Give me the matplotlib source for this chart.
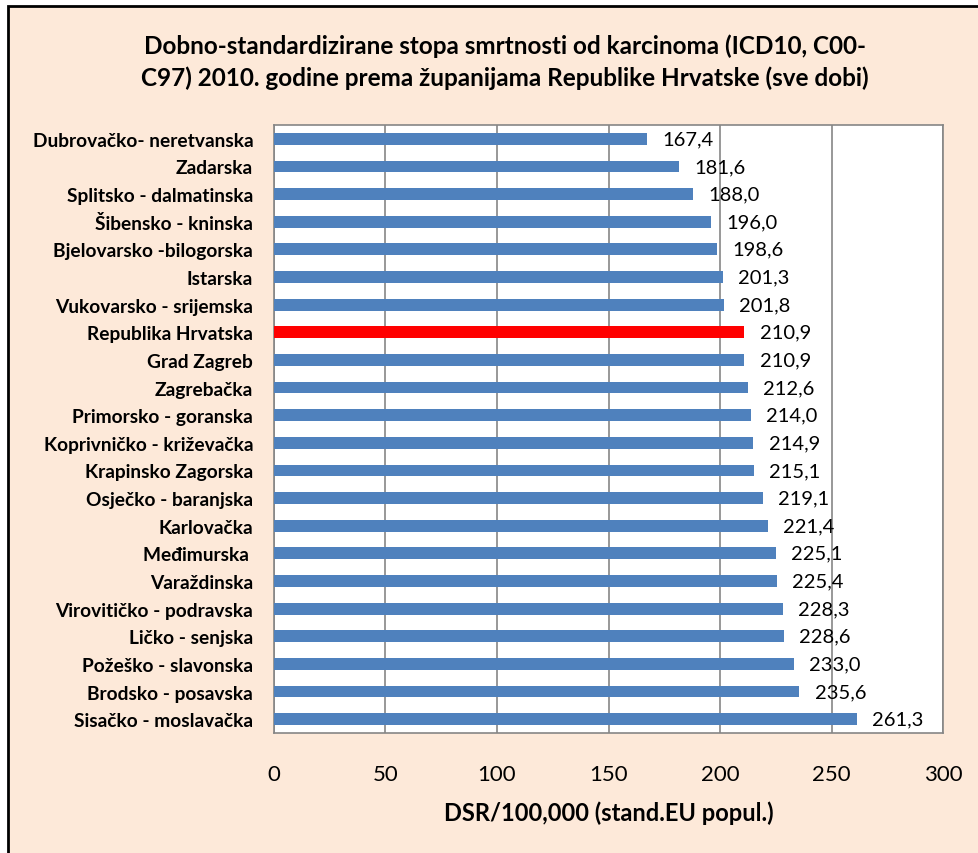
import matplotlib.pyplot as plt
from matplotlib.patches import Rectangle

plt.rcParams['font.family'] = ['Lato', 'DejaVu Sans']

counties = ['Dubrovačko- neretvanska', 'Zadarska', 'Splitsko - dalmatinska',
            'Šibensko - kninska', 'Bjelovarsko -bilogorska', 'Istarska',
            'Vukovarsko - srijemska', 'Republika Hrvatska', 'Grad Zagreb',
            'Zagrebačka', 'Primorsko - goranska', 'Koprivničko - križevačka',
            'Krapinsko Zagorska', 'Osječko - baranjska', 'Karlovačka',
            'Međimurska ', 'Varaždinska', 'Virovitičko - podravska',
            'Ličko - senjska', 'Požeško - slavonska', 'Brodsko - posavska',
            'Sisačko - moslavačka']
dsr = [167.4, 181.6, 188.0, 196.0, 198.6, 201.3, 201.8, 210.9, 210.9,
       212.6, 214.0, 214.9, 215.1, 219.1, 221.4, 225.1, 225.4, 228.3,
       228.6, 233.0, 235.6, 261.3]
highlight = 'Republika Hrvatska'
xticks = [0, 50, 100, 150, 200, 250, 300]

peach = '#FDE9D9'
blue = '#4F81BD'

fig = plt.figure(figsize=(9.79, 8.54), dpi=100, facecolor='white')
# chart frame (runs off right/bottom edge like in the screenshot)
fig.patches.append(Rectangle((8 / 979, -0.05), 1.1, 1 - 7 / 854 + 0.05,
                             transform=fig.transFigure, facecolor=peach,
                             edgecolor='black', linewidth=2, zorder=-10))

ax = fig.add_axes([274 / 979, 1 - 734 / 854, 669 / 979, (734 - 126) / 854])
ax.set_zorder(1)
ax.set_facecolor('white')

ypos = list(range(len(counties)))
colors = ['#FF0000' if c == highlight else blue for c in counties]
ax.barh(ypos, dsr, height=0.43, color=colors, zorder=3)

for y, v in zip(ypos, dsr):
    ax.annotate(f'{v:.1f}'.replace('.', ','), (v, y), xytext=(11, 0),
                textcoords='offset points', va='center', ha='left',
                fontsize=14.5, color='black')

ax.set_xlim(0, 300)
ax.set_ylim(len(counties) - 0.5, -0.5)
ax.set_xticks(xticks)
ax.set_xticklabels([str(t) for t in xticks], fontsize=16)
ax.set_yticks(ypos)
ax.set_yticklabels(counties, fontsize=13.8, fontweight='bold')
ax.tick_params(axis='x', length=0, pad=22)
ax.tick_params(axis='y', length=0, pad=15)
ax.grid(axis='x', color='#868686', linewidth=1.2, zorder=0)
for s in ax.spines.values():
    s.set_color('#868686')
    s.set_linewidth(1.2)

ax.set_xlabel('DSR/100,000 (stand.EU popul.)', fontsize=17, fontweight='bold',
              labelpad=12)

fig.text(505 / 979, 1 - 62 / 854,
         'Dobno-standardizirane stopa smrtnosti od karcinoma (ICD10, C00-\n'
         'C97) 2010. godine prema županijama Republike Hrvatske (sve dobi)',
         ha='center', va='center', fontsize=17.5, fontweight='bold',
         linespacing=1.45)

fig.savefig('out.png', dpi=100, facecolor=fig.get_facecolor())
